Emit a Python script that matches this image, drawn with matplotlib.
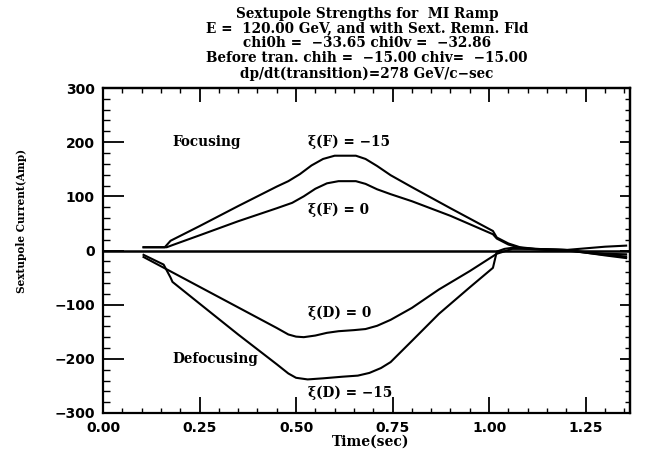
import matplotlib
matplotlib.use("Agg")
import matplotlib.pyplot as plt
from matplotlib.ticker import MultipleLocator

# ---- data ----
t_F15 = [0.105, 0.16, 0.175, 0.25, 0.35, 0.45, 0.48, 0.51, 0.54, 0.57, 0.60, 0.655, 0.68, 0.71, 0.745,
         0.80, 0.90, 1.01, 1.02, 1.05, 1.08, 1.12, 1.20, 1.25, 1.30, 1.355]
v_F15 = [6, 6, 18, 45, 82, 118, 128, 141, 157, 169, 175, 175, 169, 156, 139,
         117, 78, 36, 24, 13, 6, 3, 1, -3, -6, -7]

t_F0 = [0.105, 0.165, 0.18, 0.25, 0.35, 0.45, 0.49, 0.52, 0.55, 0.58, 0.61, 0.655, 0.68, 0.71, 0.745,
        0.80, 0.90, 1.01, 1.02, 1.05, 1.08, 1.12, 1.20, 1.25, 1.30, 1.355]
v_F0 = [6, 6, 10, 28, 54, 78, 88, 100, 114, 124, 128, 128, 123, 113, 104,
        91, 64, 30, 22, 11, 5, 3, 1, -4, -8, -11]

t_D0 = [0.105, 0.20, 0.30, 0.40, 0.45, 0.48, 0.50, 0.52, 0.55, 0.58, 0.61, 0.65, 0.68, 0.71, 0.745,
        0.80, 0.87, 0.95, 1.02, 1.06, 1.10, 1.15, 1.20, 1.25, 1.30, 1.355]
v_D0 = [-12, -48, -86, -124, -143, -155, -159, -160, -157, -152, -149, -147, -145, -139, -128,
        -106, -72, -38, -6, 3, 3, 2, 1, 4, 7, 9]

t_D15 = [0.105, 0.157, 0.175, 0.18, 0.25, 0.35, 0.45, 0.48, 0.50, 0.53, 0.57, 0.62, 0.66, 0.69, 0.72,
         0.745, 0.80, 0.87, 0.95, 1.01, 1.02, 1.04, 1.07, 1.10, 1.15, 1.20, 1.25, 1.30, 1.355]
v_D15 = [-8, -26, -50, -58, -98, -155, -210, -227, -235, -238, -236, -233, -231, -226, -217,
         -206, -167, -117, -68, -32, -2, 3, 6, 3, 1, 0, -4, -9, -14]

title_lines = ["Sextupole Strengths for  MI Ramp",
               "E =  120.00 GeV, and with Sext. Remn. Fld",
               "chi0h =  \u221233.65 chi0v =  \u221232.86",
               "Before tran. chih =  \u221215.00 chiv=  \u221215.00",
               "dp/dt(transition)=278 GeV/c\u2212sec"]

xticks = [0.00, 0.25, 0.50, 0.75, 1.00, 1.25]
xticklabels = ["0.00", "0.25", "0.50", "0.75", "1.00", "1.25"]
yticks = [-300, -200, -100, 0, 100, 200, 300]
yticklabels = ["\u2212300", "\u2212200", "\u2212100", "0", "100", "200", "300"]

W, H = 645, 453
fig = plt.figure(figsize=(W / 100, H / 100), dpi=100)
L, R, T, B = 103, 630, 88, 413
ax = fig.add_axes([L / W, 1 - B / H, (R - L) / W, (B - T) / H])

for t, v in [(t_F15, v_F15), (t_F0, v_F0), (t_D0, v_D0), (t_D15, v_D15)]:
    ax.plot(t, v, color="black", lw=1.5, solid_joinstyle="round")
ax.axhline(0, color="black", lw=1.8)

ax.set_xlim(0, 1.365)
ax.set_ylim(-300, 300)

tickfont = dict(family="DejaVu Sans", weight="bold", size=10)
ax.set_xticks(xticks)
ax.set_xticklabels(xticklabels, **tickfont)
ax.set_yticks(yticks)
ax.set_yticklabels(yticklabels, **tickfont)
ax.xaxis.set_minor_locator(MultipleLocator(0.05))
ax.yaxis.set_minor_locator(MultipleLocator(20))
ax.tick_params(axis="y", which="major", direction="in", length=15, width=1.3, pad=6, left=True, right=False)
ax.tick_params(axis="y", which="minor", direction="in", length=5, width=1.0, left=True, right=False)
ax.tick_params(axis="x", which="major", direction="in", length=11.5, width=1.3, pad=6, bottom=True, top=False)
ax.tick_params(axis="x", which="minor", direction="in", length=3.6, width=1.0, bottom=True, top=False)

sy = ax.secondary_yaxis("right")
sy.set_yticks(yticks)
sy.set_yticklabels([])
sy.yaxis.set_minor_locator(MultipleLocator(20))
sy.tick_params(which="major", direction="in", length=7, width=1.3)
sy.tick_params(which="minor", direction="in", length=3.6, width=1.0)

sx = ax.secondary_xaxis("top")
sx.set_xticks(xticks)
sx.set_xticklabels([])
sx.xaxis.set_minor_locator(MultipleLocator(0.05))
sx.tick_params(which="major", direction="in", length=10, width=1.3)
sx.tick_params(which="minor", direction="in", length=3.6, width=1.0)

for s in list(ax.spines.values()) + list(sy.spines.values()) + list(sx.spines.values()):
    s.set_linewidth(1.6)

lab = dict(family="DejaVu Serif", weight="bold", size=9.8, color="black")
ax.text(0.181, 200, "Focusing", ha="left", va="center", **lab)
ax.text(0.181, -200, "Defocusing", ha="left", va="center", **lab)
ax.text(0.530, 200, "\u03be(F) = \u221215", ha="left", va="center", **lab)
ax.text(0.530, 75, "\u03be(F) = 0", ha="left", va="center", **lab)
ax.text(0.530, -115, "\u03be(D) = 0", ha="left", va="center", **lab)
ax.text(0.530, -262, "\u03be(D) = \u221215", ha="left", va="center", **lab)

ttl = dict(family="DejaVu Serif", weight="bold", size=9.8, color="black")
ys = [14, 28.5, 43, 58.5, 74]
for line, y in zip(title_lines, ys):
    fig.text(367 / W, 1 - y / H, line, ha="center", va="center", **ttl)

fig.text(371 / W, 1 - 442 / H, "Time(sec)", family="DejaVu Serif", weight="bold", size=10,
         ha="center", va="center")
fig.text(22 / W, 1 - 221 / H, "Sextupole Current(Amp)", family="DejaVu Serif", weight="bold",
         size=7.6, ha="center", va="center", rotation=90)

fig.savefig("out.png", dpi=100)
